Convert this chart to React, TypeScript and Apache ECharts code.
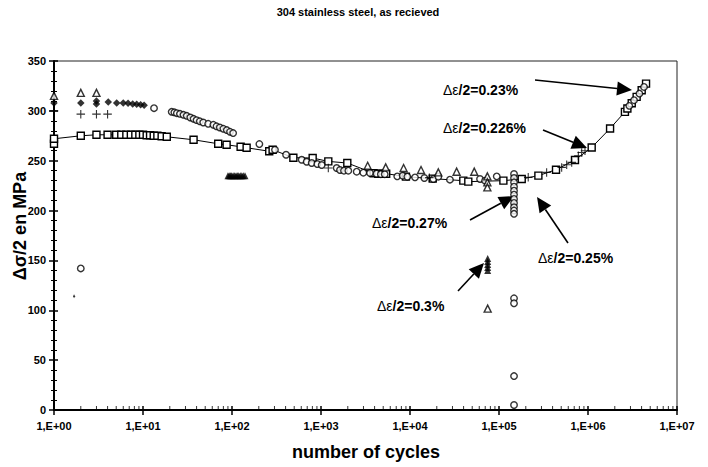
import React, { useEffect, useRef } from "react";
import * as echarts from "echarts";

// ---------- data (cycles N, Δσ/2 in MPa) ----------
const xTickLabels = ["1,E+00", "1,E+01", "1,E+02", "1,E+03", "1,E+04", "1,E+05", "1,E+06", "1,E+07"];

const squares: [number, number][] = [
  [1, 267], [1, 272], [2, 275], [3, 276], [4, 276], [5, 276], [5.7, 276], [6.5, 276], [7.3, 276],
  [8.2, 276], [9.1, 276], [10, 276], [11, 275.5], [12, 275.5], [13.2, 275], [14.5, 275], [16.2, 274.5],
  [18.5, 274], [37, 271], [70, 267], [87, 266], [125, 264], [146, 263], [262, 259.5], [286, 261],
  [489, 253], [806, 252.7], [1208, 249.3], [1975, 247.7], [3900, 237.5], [4400, 237], [4900, 237],
  [5400, 237], [9000, 234], [18000, 232], [39700, 230], [45200, 229], [112000, 230], [180000, 231.7],
  [277000, 235], [437000, 241], [714000, 250.7], [1100000, 263.3], [1770000, 282.3], [2600000, 299],
  [2770000, 302.3], [3100000, 307.7], [3520000, 314], [4010000, 320.7], [4490000, 327.3],
];

const circles: [number, number][] = [
  [2, 142], [13.3, 302.7],
  [21, 299], [22.5, 298.5], [24, 297.7], [26, 297], [28.5, 296], [31, 295], [34, 293.3], [37, 292],
  [40, 290.7], [43.5, 289.5], [47.5, 288.3], [54, 287], [61.7, 286], [67, 284.5], [73, 283.3],
  [80, 282], [87.4, 280.7], [95, 279], [103, 277.7],
  [203, 266.7], [304, 261], [405, 256], [607, 251], [690, 249], [786, 247.7], [909, 246.7],
  [1018, 245.7], [1500, 242.7], [1634, 240.7], [1812, 240], [2027, 240], [2518, 239], [2990, 238],
  [3555, 237.7], [4200, 237], [4700, 236.5], [5200, 236.5], [7190, 234.3], [8280, 235], [9330, 234],
  [11380, 233.3], [14500, 232.7], [18300, 231.7], [20800, 234], [28100, 231], [61200, 231.7],
  [69700, 230], [94300, 234.3],
  [147500, 236.7], [147500, 232.7], [147500, 228.3], [147500, 224], [147500, 220], [147500, 216],
  [147500, 211.7], [147500, 207.7], [147500, 203.3], [147500, 200], [147500, 196.7],
  [147500, 112], [147500, 107], [147500, 34], [147500, 5],
  [2910000, 305], [3290000, 310.7], [3780000, 317.3], [4260000, 324],
];

const triangles: [number, number][] = [
  [1, 315], [2, 318], [3, 318], [3345, 245], [5330, 243.3], [8470, 242.7], [13300, 240.7],
  [20800, 238.3], [33400, 239], [52700, 239], [74000, 234.3], [74000, 228.3], [74000, 223.3],
  [74600, 101.7],
];

const trianglesDense: [number, number][] = [
  [90, 235], [93, 235], [96, 235], [99, 235], [103, 235], [107, 235], [111, 235], [115, 235],
  [119, 235], [124, 235], [129, 235], [134, 235], [140, 235],
  [74600, 152], [74600, 149], [74600, 146], [74600, 143], [74600, 140],
];

const diamonds: [number, number][] = [
  [1, 308], [2, 308], [3, 307], [3, 310], [4.07, 309], [5.06, 308], [6, 308], [6.8, 307.7],
  [7.66, 307], [8.5, 306.7], [9.4, 306], [10.3, 305.7],
];

const specks: [number, number][] = [[1.68, 114]];

const pluses: [number, number][] = [
  [1, 300], [2, 296.7], [3, 296.7], [4, 296.7], [1208, 242.7], [16500, 233], [213000, 233.3],
  [343000, 238.3], [506000, 243.3], [576000, 246], [656000, 248.3], [779000, 255], [849000, 258.3],
  [925000, 260],
];

const annotations = [
  { label: "/2=0.23%", tx: 443, ty: 90, from: [535, 80], to: [632, 90] },
  { label: "/2=0.226%", tx: 443, ty: 128, from: [543, 130], to: [587, 148] },
  { label: "/2=0.27%", tx: 372, ty: 223, from: [470, 220], to: [514, 196] },
  { label: "/2=0.25%", tx: 538, ty: 258, from: [568, 243], to: [537, 197] },
  { label: "/2=0.3%", tx: 377, ty: 306, from: [458, 291], to: [484, 263] },
];

const FONT = "'Liberation Sans', Arial, Helvetica, sans-serif";

function arrow(from: number[], to: number[]) {
  const dx = to[0] - from[0];
  const dy = to[1] - from[1];
  const len = Math.sqrt(dx * dx + dy * dy);
  const ux = dx / len, uy = dy / len;
  const L = 15, W = 7;
  const bx = to[0] - ux * L, by = to[1] - uy * L;
  const nx = -uy, ny = ux;
  return [
    { type: "line", shape: { x1: from[0], y1: from[1], x2: bx, y2: by }, style: { stroke: "#000", lineWidth: 1.6 }, silent: true },
    {
      type: "polygon",
      shape: { points: [[to[0], to[1]], [bx + nx * W, by + ny * W], [bx - nx * W, by - ny * W]] },
      style: { fill: "#000" },
      silent: true,
    },
  ];
}

const PLUS = "path://M4.35,0H5.65V4.35H10V5.65H5.65V10H4.35V5.65H0V4.35H4.35Z";

export default function App() {
  const ref = useRef<HTMLDivElement>(null);
  useEffect(() => {
    if (!ref.current) return;
    const chart = echarts.init(ref.current, undefined, { renderer: "svg" });

    const minorTicks: [number, number][] = [];
    for (let d = 0; d < 7; d++) for (let k = 2; k <= 9; k++) minorTicks.push([k * Math.pow(10, d), 0]);

    const graphics: any[] = [
      {
        type: "text", x: 358, y: 12,
        style: { text: "304 stainless steel, as recieved", fontFamily: FONT, fontWeight: "bold", fontSize: 11, fill: "#000", textAlign: "center", textVerticalAlign: "middle" },
      },
      {
        type: "text", x: 366, y: 452,
        style: { text: "number of cycles", fontFamily: FONT, fontWeight: "bold", fontSize: 18, fill: "#000", textAlign: "center", textVerticalAlign: "middle" },
      },
      {
        type: "text", x: 20, y: 226, rotation: Math.PI / 2,
        style: { text: "Δσ/2 en MPa", fontFamily: FONT, fontWeight: "bold", fontSize: 18, fill: "#000", textAlign: "center", textVerticalAlign: "middle" },
      },
    ];
    annotations.forEach((a) => {
      graphics.push({
        type: "text", x: a.tx, y: a.ty,
        style: {
          text: "{a|Δε}{b|" + a.label + "}",
          textVerticalAlign: "middle",
          rich: {
            a: { fontFamily: FONT, fontSize: 14, fontWeight: "normal", fill: "#000", color: "#000" },
            b: { fontFamily: FONT, fontSize: 14, fontWeight: "bold", fill: "#000", color: "#000" },
          },
        },
      });
      graphics.push(...arrow(a.from, a.to));
    });

    const axisLabelX = {
      color: "#000", fontFamily: FONT, fontWeight: "bold", fontSize: 11, margin: 10,
      formatter: (v: number) => xTickLabels[Math.round(Math.log10(v))] ?? "",
    };

    const open = (sym: string, size: number) => ({
      symbol: sym, symbolSize: size,
      itemStyle: { color: "#fff", borderColor: "#000", borderWidth: 1.4 },
    });

    chart.setOption({
      animation: false,
      backgroundColor: "#fff",
      grid: { left: 54, right: 31, top: 61, bottom: 57, show: true, borderColor: "#222", borderWidth: 1, backgroundColor: "transparent" },
      xAxis: [
        {
          type: "log", logBase: 10, min: 1, max: 1e7, splitNumber: 7,
          axisLine: { lineStyle: { color: "#000", width: 2 } },
          axisTick: { show: true, length: 5, lineStyle: { color: "#000", width: 1.5 } },
          axisLabel: axisLabelX,
          splitLine: { show: false },
        },
        {
          type: "log", logBase: 10, min: 1, max: 1e7, splitNumber: 7, position: "bottom", offset: 0,
          axisLine: { show: false },
          axisTick: { show: true, inside: true, length: 4, lineStyle: { color: "#000", width: 1.5 } },
          axisLabel: { show: false },
          splitLine: { show: false },
        },
      ],
      yAxis: [
        {
          type: "value", min: 0, max: 350, interval: 50,
          axisLine: { show: true, lineStyle: { color: "#000", width: 2 } },
          axisTick: { show: true, length: 5, lineStyle: { color: "#000", width: 1.5 } },
          minorTick: { show: true, splitNumber: 5, length: 3, lineStyle: { color: "#000", width: 1 } },
          axisLabel: { color: "#000", fontFamily: FONT, fontWeight: "bold", fontSize: 11, margin: 8 },
          splitLine: { show: false },
        },
        {
          type: "value", min: 0, max: 350, interval: 50, position: "left", offset: 0,
          axisLine: { show: false },
          axisTick: { show: true, inside: true, length: 4, lineStyle: { color: "#000", width: 1.5 } },
          minorTick: { show: true, splitNumber: 5, length: 3, lineStyle: { color: "#000", width: 1 } },
          axisLabel: { show: false },
          splitLine: { show: false },
        },
      ],
      series: [
        {
          type: "scatter", data: minorTicks, symbol: "rect", symbolSize: [1, 4], symbolOffset: [0, -2],
          itemStyle: { color: "#000" }, silent: true, clip: false, z: 1,
        },
        {
          type: "line", data: squares, symbol: "rect", symbolSize: 7, showSymbol: true,
          lineStyle: { color: "#000", width: 1 },
          itemStyle: { color: "#fff", borderColor: "#000", borderWidth: 1.4 },
          clip: false, z: 3, silent: true,
        },
        { type: "scatter", data: circles, ...open("circle", 6.5), clip: false, z: 4, silent: true },
        { type: "scatter", data: triangles, ...open("triangle", 7), clip: false, z: 4, silent: true },
        {
          type: "scatter", data: trianglesDense, symbol: "triangle", symbolSize: 7,
          itemStyle: { color: "#000" }, clip: false, z: 4, silent: true,
        },
        {
          type: "scatter", data: diamonds, symbol: "diamond", symbolSize: 7.5,
          itemStyle: { color: "#000" }, clip: false, z: 4, silent: true,
        },
        {
          type: "scatter", data: specks, symbol: "diamond", symbolSize: [2, 4],
          itemStyle: { color: "#000" }, clip: false, z: 4, silent: true,
        },
        {
          type: "scatter", data: pluses, symbol: PLUS, symbolSize: 8.5,
          itemStyle: { color: "#000" }, clip: false, z: 4, silent: true,
        },
      ],
      graphic: graphics,
    });
    return () => chart.dispose();
  }, []);
  return <div ref={ref} style={{ position: "fixed", left: 0, top: 0, width: 708, height: 467, background: "#fff" }} />;
}
